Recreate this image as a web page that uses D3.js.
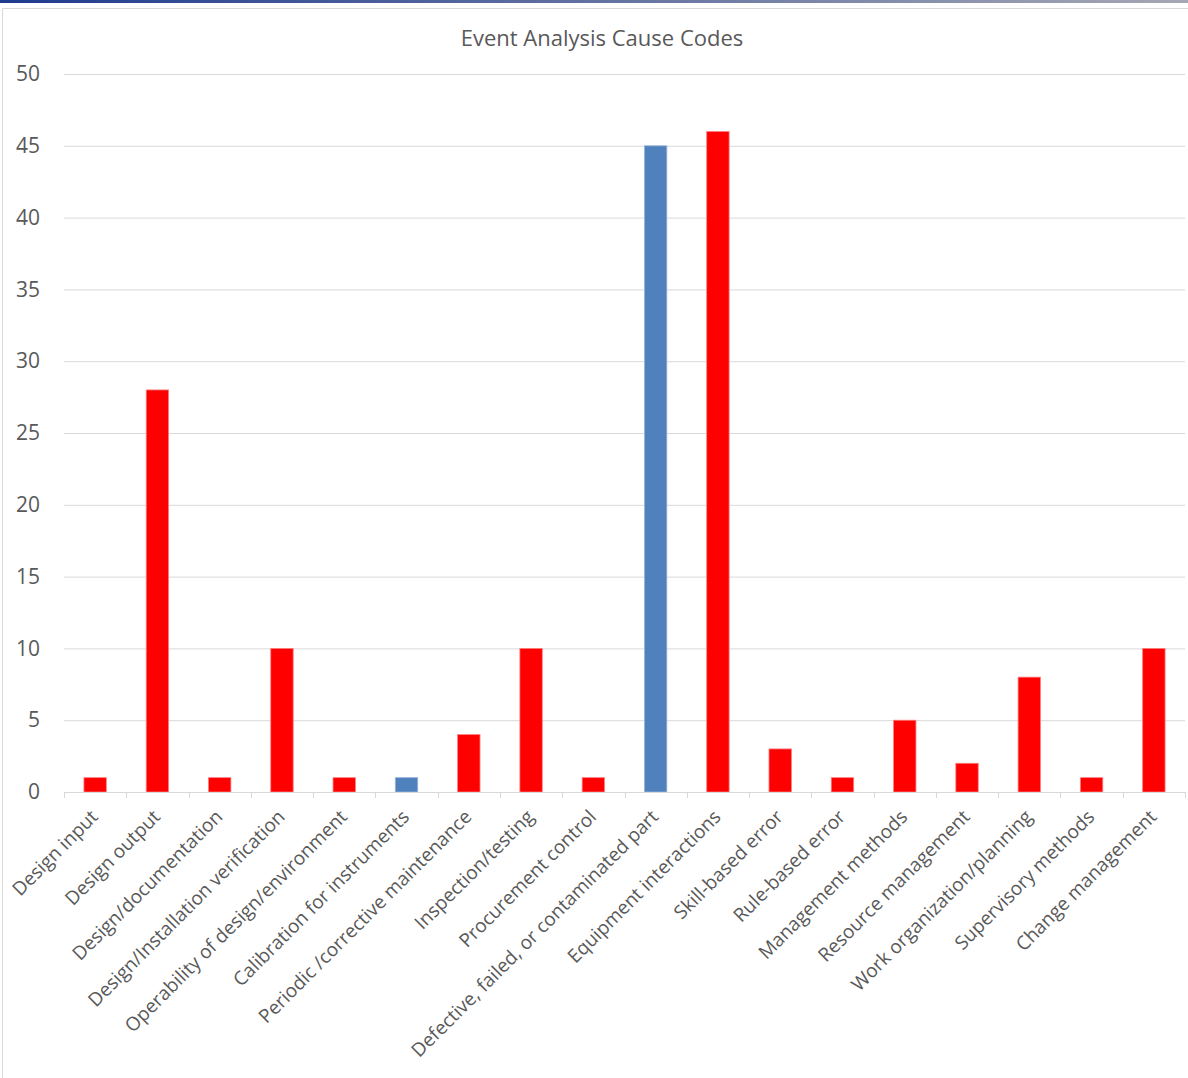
<!DOCTYPE html>
<html>
<head>
<meta charset="utf-8">
<script src="https://cdn.jsdelivr.net/npm/d3@7"></script>
<style>
  body { margin: 0; background: #fff; }
  .boundary { width: 1188px; height: 1078px; }
  text { font-family: "Open Sans", sans-serif; fill: #595959; }
</style>
</head>
<body>
<div class="boundary"></div>
<script>
var categories = ["Design input", "Design output", "Design/documentation", "Design/Installation verification",
  "Operability of design/environment", "Calibration for instruments", "Periodic /corrective maintenance",
  "Inspection/testing", "Procurement control", "Defective, failed, or contaminated part",
  "Equipment interactions", "Skill-based error", "Rule-based error", "Management methods",
  "Resource management", "Work organization/planning", "Supervisory methods", "Change management"];
var counts = [1, 28, 1, 10, 1, 1, 4, 10, 1, 45, 46, 3, 1, 5, 2, 8, 1, 10];
var highlighted = ["Calibration for instruments", "Defective, failed, or contaminated part"];
var yTicks = [0, 5, 10, 15, 20, 25, 30, 35, 40, 45, 50];

var width = 1188, height = 1078;
var svg = d3.select(".boundary").append("svg")
  .attr("width", width).attr("height", height);

// top gradient strip
var grad = svg.append("defs").append("linearGradient").attr("id", "topbar");
grad.append("stop").attr("offset", "0%").attr("stop-color", "#1f3b8f");
grad.append("stop").attr("offset", "100%").attr("stop-color", "#a6a8b4");
svg.append("rect").attr("x", 0).attr("y", 0).attr("width", width).attr("height", 3).attr("fill", "url(#topbar)");

// chart frame
svg.append("path").attr("d", "M2.5,1078 V8.5 H1188").attr("fill", "none").attr("stroke", "#d9d9d9");

var x = d3.scaleBand().domain(categories).range([64, 1185]).paddingInner(0.64).paddingOuter(0.32);
var y = d3.scaleLinear().domain([0, 50]).range([792, 74]);

svg.append("text").attr("x", 602).attr("y", 46).attr("text-anchor", "middle")
  .style("font-size", "22px").text("Event Analysis Cause Codes");

// gridlines
svg.append("g").selectAll("line").data(yTicks.filter(function(d){ return d > 0; })).enter()
  .append("line").attr("x1", 64).attr("x2", 1185)
  .attr("y1", function(d){ return y(d) + 0.5; }).attr("y2", function(d){ return y(d) + 0.5; })
  .attr("stroke", "#d9d9d9").attr("stroke-width", 1);

// y axis labels
var yAxis = svg.append("g").attr("transform", "translate(64,0)")
  .call(d3.axisLeft(y).tickValues(yTicks).tickSize(0).tickPadding(24));
yAxis.select(".domain").remove();
yAxis.selectAll("text").style("font-size", "21px").attr("fill", "#595959");

// bars
svg.append("g").selectAll("rect").data(categories).enter().append("rect")
  .attr("x", function(d){ return x(d); })
  .attr("y", function(d, i){ return y(counts[i]); })
  .attr("width", x.bandwidth())
  .attr("height", function(d, i){ return y(0) - y(counts[i]); })
  .attr("fill", function(d){ return highlighted.indexOf(d) >= 0 ? "#4f81bd" : "#ff0000"; })
  .attr("stroke", function(d){ return highlighted.indexOf(d) >= 0 ? "#9ab5dc" : "#ff8080"; })
  .attr("stroke-width", 0.8);

// x axis
var ticksX = d3.range(categories.length + 1).map(function(i){ return 64 + i * (1121 / categories.length); });
var xg = svg.append("g");
xg.append("line").attr("x1", 64).attr("x2", 1185).attr("y1", 792.5).attr("y2", 792.5)
  .attr("stroke", "#d9d9d9").attr("stroke-width", 1);
xg.selectAll(".tk").data(ticksX).enter().append("line").attr("class", "tk")
  .attr("x1", function(d){ return Math.round(d) + 0.5; }).attr("x2", function(d){ return Math.round(d) + 0.5; })
  .attr("y1", 792).attr("y2", 798).attr("stroke", "#d9d9d9");

xg.selectAll(".lbl").data(categories).enter().append("text").attr("class", "lbl")
  .attr("text-anchor", "end")
  .style("font-size", "19px")
  .attr("transform", function(d){
    var cx = x(d) + x.bandwidth() / 2 + 4;
    return "translate(" + cx + ",818) rotate(-45)";
  })
  .text(function(d){ return d; });
</script>
</body>
</html>
